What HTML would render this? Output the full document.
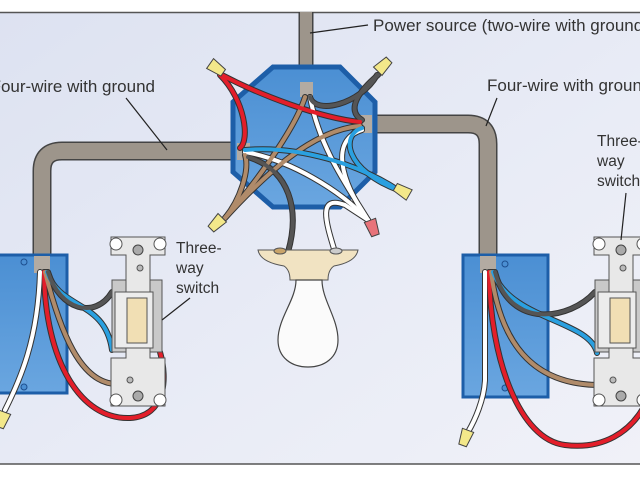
<!DOCTYPE html>
<html><head><meta charset="utf-8"><style>html,body{margin:0;padding:0;background:#fff}svg{display:block}</style></head>
<body>
<svg width="640" height="480" viewBox="0 0 640 480" xmlns="http://www.w3.org/2000/svg" font-family="Liberation Sans, sans-serif">
<defs>
<linearGradient id="bg" x1="0" y1="0" x2="1" y2="1"><stop offset="0" stop-color="#dde2f1"/><stop offset="0.6" stop-color="#e9ecf6"/><stop offset="1" stop-color="#f0f1f8"/></linearGradient>
<linearGradient id="box" x1="0" y1="0" x2="0" y2="1"><stop offset="0" stop-color="#4b8fd3"/><stop offset="1" stop-color="#6aa6e0"/></linearGradient>
<g id="sw">
  <rect x="12" y="50" width="50" height="72" fill="#c9c9c9" stroke="#555" stroke-width="1"/>
  <path d="M11,7 h54 v18 h-15 v103 h15 v48 h-54 v-48 h15 v-103 h-15 z" fill="#e8e8e8" stroke="#555" stroke-width="1"/>
  <circle cx="16" cy="14" r="6" fill="#fff" stroke="#555"/><circle cx="60" cy="14" r="6" fill="#fff" stroke="#555"/>
  <circle cx="16" cy="170" r="6" fill="#fff" stroke="#555"/><circle cx="60" cy="170" r="6" fill="#fff" stroke="#555"/>
  <circle cx="38" cy="20" r="5" fill="#aaa" stroke="#444"/><circle cx="38" cy="166" r="5" fill="#aaa" stroke="#444"/>
  <rect x="15" y="62" width="38" height="56" fill="#ececec" stroke="#555"/>
  <rect x="27" y="68" width="20" height="45" fill="#f1dfb4" stroke="#555"/>
  <circle cx="40" cy="38" r="3" fill="#bbb" stroke="#555"/><circle cx="30" cy="150" r="3" fill="#bbb" stroke="#555"/>
</g>
</defs>
<rect x="0" y="12" width="640" height="452" fill="url(#bg)"/>
<line x1="0" y1="12.5" x2="640" y2="12.5" stroke="#555" stroke-width="1.5"/>
<line x1="0" y1="464" x2="640" y2="464" stroke="#555" stroke-width="1.5"/>

<g fill="none" stroke-linecap="butt">
<path d="M248,151 H62 Q42,151 42,171 V272" stroke="#444" stroke-width="19"/>
<path d="M248,151 H62 Q42,151 42,171 V272" stroke="#9d958b" stroke-width="16"/>
<path d="M360,124 H468 Q488,124 488,144 V272" stroke="#444" stroke-width="19"/>
<path d="M360,124 H468 Q488,124 488,144 V272" stroke="#9d958b" stroke-width="16"/>
<path d="M306,12 V90" stroke="#444" stroke-width="15"/>
<path d="M306,12 V90" stroke="#9d958b" stroke-width="12"/>
</g>

<polygon points="273,67 340,67 375,102 375,172 340,207 273,207 233,172 233,102" fill="url(#box)" stroke="#1d5ea8" stroke-width="5"/>
<rect x="300" y="82" width="13" height="15" fill="#b3aba2"/>
<rect x="237" y="143" width="13" height="17" fill="#b3aba2"/>
<rect x="360" y="115" width="12" height="18" fill="#b3aba2"/>

<rect x="-5" y="255" width="72" height="138" fill="url(#box)" stroke="#1d5ea8" stroke-width="3"/>
<rect x="463" y="255" width="85" height="142" fill="url(#box)" stroke="#1d5ea8" stroke-width="3"/>
<circle cx="24" cy="262" r="3" fill="#4b8fd3" stroke="#1d4f8f"/><circle cx="24" cy="387" r="3" fill="#4b8fd3" stroke="#1d4f8f"/>
<circle cx="505" cy="264" r="3" fill="#4b8fd3" stroke="#1d4f8f"/><circle cx="505" cy="388" r="3" fill="#4b8fd3" stroke="#1d4f8f"/>
<rect x="34" y="256" width="16" height="17" fill="#b3aba2"/>
<rect x="480" y="256" width="16" height="17" fill="#b3aba2"/>

<g fill="none" stroke-linecap="round">
<g stroke="#333" stroke-width="6">
<path d="M310,97 C320,150 350,190 368,220"/><path d="M245,152 C290,160 340,190 368,220"/><path d="M362,130 C330,140 340,180 368,220"/>
<path d="M305,97 C295,130 250,190 225,218"/><path d="M360,126 C310,130 260,180 225,218"/><path d="M245,155 C250,170 240,200 225,218"/>
<path d="M245,150 C300,145 360,165 398,190"/><path d="M362,128 C340,135 345,170 398,190"/>
<path d="M310,97 C315,115 360,105 377,75"/><path d="M362,120 C345,110 360,90 378,75"/>
<path d="M222,75 C260,95 320,118 360,122"/><path d="M220,75 C245,100 250,140 240,148"/>
<path d="M288,252 C300,210 290,170 248,157"/><path d="M335,252 C325,220 318,195 345,205 L368,220"/>
</g>
<g stroke-width="4">
<path d="M310,97 C320,150 350,190 368,220" stroke="#fff"/><path d="M245,152 C290,160 340,190 368,220" stroke="#fff"/><path d="M362,130 C330,140 340,180 368,220" stroke="#fff"/>
<path d="M305,97 C295,130 250,190 225,218" stroke="#b08b6a"/><path d="M360,126 C310,130 260,180 225,218" stroke="#b08b6a"/><path d="M245,155 C250,170 240,200 225,218" stroke="#b08b6a"/>
<path d="M245,150 C300,145 360,165 398,190" stroke="#2aa0e0"/><path d="M362,128 C340,135 345,170 398,190" stroke="#2aa0e0"/>
<path d="M310,97 C315,115 360,105 377,75" stroke="#555"/><path d="M362,120 C345,110 360,90 378,75" stroke="#555"/>
<path d="M222,75 C260,95 320,118 360,122" stroke="#e31e2a"/><path d="M220,75 C245,100 250,140 240,148" stroke="#e31e2a"/>
<path d="M288,252 C300,210 290,170 248,157" stroke="#555"/><path d="M335,252 C325,220 318,195 345,205 L368,220" stroke="#fff"/>
</g>
<g stroke="#333" stroke-width="6">
<path d="M40,272 C38,340 20,380 5,410"/><path d="M44,272 C45,360 80,420 130,418 C165,416 168,380 160,352"/>
<path d="M45,272 C60,330 80,385 118,384"/><path d="M47,272 C60,310 105,300 112,350"/><path d="M48,272 C60,310 95,320 112,292"/>
<path d="M485,272 L485,380 C484,400 475,420 468,432"/><path d="M489,272 C490,360 520,440 565,445 C605,450 630,430 642,410"/>
<path d="M491,272 C500,340 530,385 600,385"/><path d="M493,272 C510,320 590,320 597,353"/><path d="M495,272 C510,330 570,320 595,292"/>
</g>
<g stroke-width="4">
<path d="M40,272 C38,340 20,380 5,410" stroke="#fff"/><path d="M44,272 C45,360 80,420 130,418 C165,416 168,380 160,352" stroke="#e31e2a"/>
<path d="M45,272 C60,330 80,385 118,384" stroke="#b08b6a"/><path d="M47,272 C60,310 105,300 112,350" stroke="#2aa0e0"/><path d="M48,272 C60,310 95,320 112,292" stroke="#555"/>
<path d="M485,272 L485,380 C484,400 475,420 468,432" stroke="#fff"/><path d="M489,272 C490,360 520,440 565,445 C605,450 630,430 642,410" stroke="#e31e2a"/>
<path d="M491,272 C500,340 530,385 600,385" stroke="#b08b6a"/><path d="M493,272 C510,320 590,320 597,353" stroke="#2aa0e0"/><path d="M495,272 C510,330 570,320 595,292" stroke="#555"/>
</g>
</g>

<g stroke="#444" stroke-width="1">
<path d="M-6,-6 L6,-6 L4,10 L-4,10 Z" fill="#f3e88a" transform="translate(215,67) rotate(-55)"/>
<path d="M-6,-6 L6,-6 L4,10 L-4,10 Z" fill="#f3e88a" transform="translate(382,67) rotate(-135)"/>
<path d="M-6,-6 L6,-6 L4,10 L-4,10 Z" fill="#f3e88a" transform="translate(404,192) rotate(120)"/>
<path d="M-6,-6 L6,-6 L4,10 L-4,10 Z" fill="#f3e88a" transform="translate(218,222) rotate(45)"/>
<path d="M-6,-6 L6,-6 L4,10 L-4,10 Z" fill="#e8737a" transform="translate(372,226) rotate(-20)"/>
<path d="M-6,-6 L6,-6 L4,10 L-4,10 Z" fill="#f3e88a" transform="translate(3,418) rotate(20)"/>
<path d="M-6,-6 L6,-6 L4,10 L-4,10 Z" fill="#f3e88a" transform="translate(466,436) rotate(20)"/>
</g>

<path d="M258,250 H358 Q356,262 334,266 Q328,270 328,280 H290 Q290,270 284,266 Q260,262 258,250 Z" fill="#f1e3c2" stroke="#555"/>
<path d="M296,280 C296,300 278,318 278,340 C278,358 292,367 308,367 C324,367 338,358 338,340 C338,318 322,300 322,280 Z" fill="#fbfbfb" stroke="#444" stroke-width="1.2"/>
<ellipse cx="280" cy="251" rx="6" ry="3" fill="#c9a46a" stroke="#555"/><ellipse cx="336" cy="251" rx="6" ry="3" fill="#ccc" stroke="#555"/>

<use href="#sw" transform="translate(100,230)"/>
<use href="#sw" transform="translate(583,230)"/>

<g fill="#333" font-size="17">
<text x="373" y="31">Power source (two-wire with ground)</text>
<text x="155" y="92" text-anchor="end">Four-wire with ground</text>
<text x="487" y="91">Four-wire with ground</text>
</g>
<g fill="#333" font-size="15.5">
<text x="176" y="253">Three-</text><text x="176" y="273">way</text><text x="176" y="293">switch</text>
<text x="597" y="146">Three-</text><text x="597" y="166">way</text><text x="597" y="186">switch</text>
</g>
<g stroke="#222" stroke-width="1.2">
<line x1="310" y1="33" x2="368" y2="25"/>
<line x1="126" y1="98" x2="167" y2="150"/>
<line x1="497" y1="98" x2="486" y2="126"/>
<line x1="190" y1="298" x2="162" y2="320"/>
<line x1="626" y1="193" x2="621" y2="240"/>
</g>
</svg>
</body></html>
